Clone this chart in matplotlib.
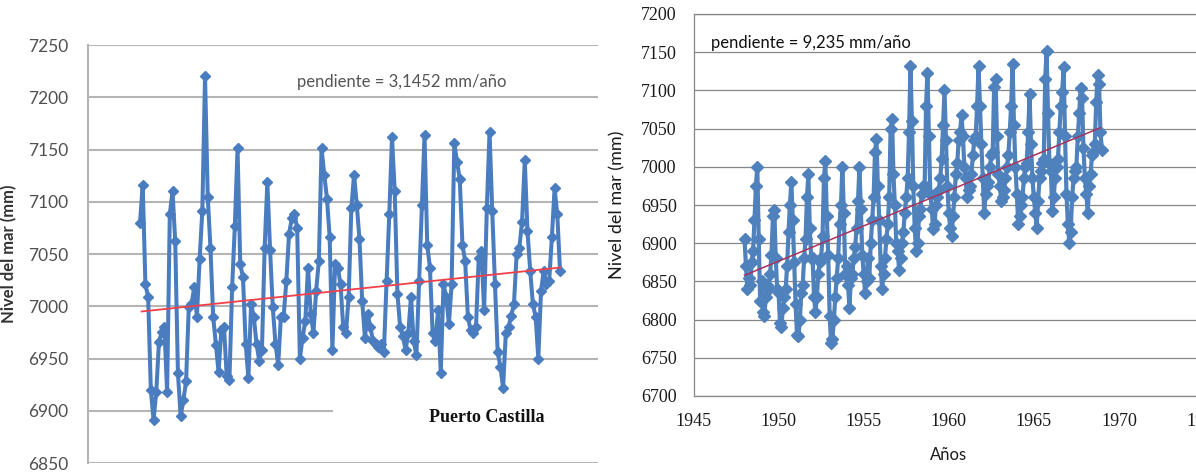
import matplotlib
matplotlib.use("Agg")
import matplotlib.pyplot as plt
import numpy as np

# ---------------- data ----------------
# Left panel (Puerto Castilla), monthly sea level (mm), sequential samples
left_values_mm = [
    7080, 7116, 7021, 7009, 6920, 6891, 6918, 6966, 6975, 6980, 6918, 7088,
    7110, 7062, 6936, 6895, 6910, 6928, 6999, 7002, 7018, 6990, 7045, 7091,
    7220, 7105, 7056, 6990, 6963, 6937, 6977, 6980, 6933, 6929, 7018, 7077,
    7151, 7040, 7028, 6964, 6931, 7002, 6990, 6964, 6948, 6958, 7056, 7119,
    7054, 6999, 6964, 6944, 6990, 6990, 7024, 7069, 7084, 7088, 7075, 6950,
    6970, 6986, 7037, 6993, 6974, 7015, 7043, 7151, 7126, 7103, 7066, 6958,
    7040, 7037, 7021, 6980, 6974, 7009, 7094,
    7126, 7097, 7064, 7005, 6970, 6993, 6980, 6967, 6964, 6961, 6964, 6956,
    7024, 7088, 7162, 7110, 7012, 6980, 6972, 6958, 6974, 7009, 6967, 6953,
    7024, 7097, 7164, 7059, 7037, 6974, 6967, 6996, 6936, 7021, 7009, 6983,
    7021, 7156, 7138, 7122, 7059, 7043, 6990, 6977, 6974, 6980, 7046, 7053,
    6996, 7094, 7167, 7091, 7021, 6956, 6942, 6922, 6974, 6980, 6991, 7002,
    7050, 7056, 7081, 7140, 7072, 7034, 7002, 6990, 6950, 7015, 7034, 7021,
    7024, 7066, 7113, 7088, 7034,
]
left_trend_mm = [6995, 7037]          # trend line start / end
left_slope_text = "pendiente = 3,1452 mm/año"
left_station = "Puerto Castilla"
left_yticks = [6850, 6900, 6950, 7000, 7050, 7100, 7150, 7200, 7250]

# Right panel, monthly sea level (mm) from January 1948
right_start_year = 1948
right_monthly_mm = [
    6905, 6870, 6840, 6855, 6845, 6875, 6890, 6930, 6975, 7000, 6905, 6825,
    6850, 6810, 6805, 6830, 6845, 6840, 6860, 6885, 6935, 6943, 6880, 6840,
    6835, 6795, 6790, 6815, 6830, 6840, 6870, 6915, 6950, 6980, 6930, 6875,
    6820, 6780, 6778, 6800, 6835, 6845, 6880, 6905, 6960, 6990, 6920, 6880,
    6880, 6830, 6810, 6830, 6860, 6875, 6880, 6910, 6985, 7007, 6935, 6885,
    6805, 6770, 6775, 6800, 6830, 6855, 6880, 6925, 6950, 7000, 6940, 6860,
    6870, 6845, 6815, 6855, 6860, 6880, 6895, 6920, 6955, 7000, 6945, 6885,
    6860, 6835, 6850, 6880, 6855, 6900, 6930, 6960, 7020, 7037, 6975, 6930,
    6870, 6840, 6860, 6880, 6905, 6925, 6960, 7050, 7063, 6990, 6950, 6900,
    6890, 6865, 6880, 6900, 6915, 6940, 6960, 6985, 7045, 7132, 7060, 6975,
    6920, 6890, 6900, 6935, 6945, 6965, 6975, 6975, 7080, 7123, 7040, 6965,
    6945, 6918, 6925, 6950, 6960, 6970, 6985, 7010, 7055, 7100, 7035, 6975,
    6940, 6920, 6910, 6935, 6960, 6990, 7005, 7035, 7045, 7068, 7040, 7000,
    6985, 6960, 6970, 6975, 6990, 7015, 7035, 7040, 7080, 7132, 7080, 7030,
    6985, 6940, 6965, 6975, 6980, 7000, 7015, 7020, 7105, 7115, 7040, 6990,
    6975, 6955, 6960, 6970, 6985, 7000, 7015, 7045, 7080, 7135, 7055, 7000,
    6965, 6925, 6935, 6950, 6960, 6985, 7000, 7005, 7045, 7095, 7030, 6985,
    6960, 6940, 6920, 6955, 6985, 6995, 7005, 7010, 7115, 7152, 7070, 7005,
    6995, 6942, 6960, 6985, 7000, 7010, 7045, 7080, 7098, 7130, 7040, 6965,
    6925, 6900, 6915, 6960, 6985, 6995, 7000, 7040, 7070, 7103, 7090, 7025,
    6985, 6965, 6940, 6975, 6990, 7015, 7020, 7030, 7085, 7120, 7108, 7045,
    7022,
]
right_trend_years = [1948.0, 1968.9]
right_trend_mm = [6858, 7051]
right_slope_text = "pendiente = 9,235 mm/año"
right_xticks = [1945, 1950, 1955, 1960, 1965, 1970, 1975]
right_yticks = [6700, 6750, 6800, 6850, 6900, 6950, 7000, 7050, 7100, 7150, 7200]

# ---------------- figure ----------------
W, H = 1196, 475
fig = plt.figure(figsize=(W / 100, H / 100), dpi=100)
fig.patch.set_facecolor("white")


def fx(px):
    return px / W


def fy(py):
    return 1 - py / H


# ---- Left panel ----
axL = fig.add_axes([fx(88), fy(463), fx(598 - 88), (463 - 45) / H])
n = len(left_values_mm)
xL = np.arange(n)
ppi = (560 - 140) / (n - 1)
axL.set_xlim(-(140 - 88) / ppi, (n - 1) + (598 - 560) / ppi)
axL.set_ylim(6850, 7250)
grid_c = "#b5b5b5"
for yv in left_yticks:
    xmax = 1.0
    if yv == 6900:
        xmax = (332 - 88) / (598 - 88)
    axL.axhline(yv, xmin=0, xmax=xmax, color=grid_c, lw=1.5, zorder=1)
for s in ["top", "right", "bottom"]:
    axL.spines[s].set_visible(False)
axL.spines["left"].set_color(grid_c)
axL.spines["left"].set_linewidth(1.5)
axL.set_xticks([])
axL.set_yticks(left_yticks)
axL.tick_params(axis="y", length=0, pad=14, labelsize=12.5, labelcolor="#505050")
for lab in axL.get_yticklabels():
    lab.set_family("Lato")
axL.plot(xL, left_values_mm, color="#4a7dc0", lw=2.9, marker="D", ms=5.6,
         mec="#4a7dc0", mfc="#4a7dc0", zorder=3, clip_on=False)
axL.plot([xL[0] + 0.6, xL[-1]], left_trend_mm, color="#f2404a", lw=1.3, zorder=4)
axL.set_ylabel("Nivel del mar (mm)", family="Lato", weight="bold", fontsize=12,
               color="#333333")
axL.yaxis.set_label_coords((17 - 88) / 510, 0.5)
axL.text((402 - 88) / 510, (7215 - 6850) / 400, left_slope_text, transform=axL.transAxes,
         ha="center", va="center", family="Lato", fontsize=12, color="#555555")
axL.text((487 - 88) / 510, (6894 - 6850) / 400, left_station, transform=axL.transAxes,
         ha="center", va="center", family="Liberation Serif", weight="bold",
         fontsize=13, color="#111111")

# ---- Right panel ----
axR = fig.add_axes([fx(693.5), fy(396), fx(1204 - 693.5), (396 - 14) / H])
xR = right_start_year + np.arange(len(right_monthly_mm)) / 12.0
axR.set_xlim(1945, 1975)
axR.set_ylim(6700, 7200)
gc = "#878787"
for yv in right_yticks:
    axR.axhline(yv, color=gc, lw=0.9, zorder=1)
for s in ["top", "right", "bottom", "left"]:
    axR.spines[s].set_color(gc)
    axR.spines[s].set_linewidth(0.9)
axR.set_xticks(right_xticks)
axR.set_yticks(right_yticks)
axR.tick_params(axis="both", length=0, labelsize=13, labelcolor="#1a1a1a")
axR.tick_params(axis="y", pad=12)
axR.tick_params(axis="x", pad=12)
for lab in axR.get_yticklabels() + axR.get_xticklabels():
    lab.set_family("Liberation Serif")
axR.plot(xR, right_monthly_mm, color="#4f81bd", lw=3.0, marker="D", ms=6.2,
         mec="#4f81bd", mfc="#4f81bd", zorder=3)
axR.plot(right_trend_years, right_trend_mm, color="#a8325a", lw=1.1, zorder=4)
axR.set_ylabel("Nivel del mar (mm)", family="Lato", fontsize=13, color="#1a1a1a")
axR.yaxis.set_label_coords((625 - 693.5) / 510.5, 0.5)
axR.set_xlabel("Años", family="Lato", fontsize=12, color="#1a1a1a")
axR.xaxis.set_label_coords((949 - 693.5) / 510.5, -(447 - 396) / 382)
axR.text(1946.0, 7162, right_slope_text, ha="left", va="center",
         family="Lato", fontsize=12, color="#111111")

fig.savefig("out.png", dpi=100, facecolor="white")
